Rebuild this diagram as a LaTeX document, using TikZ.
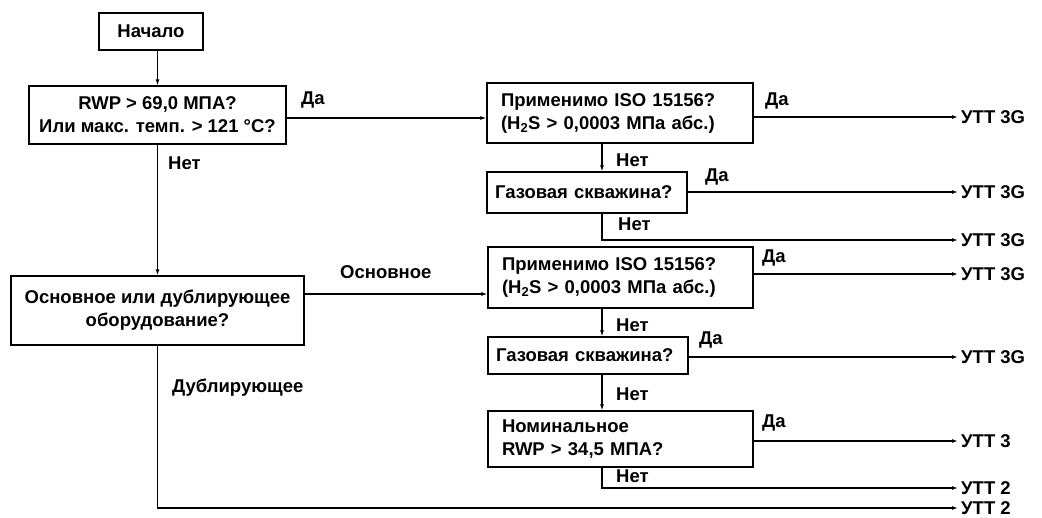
\documentclass[tikz,border=0pt]{standalone}
\usepackage{fontspec}
\setmainfont{Liberation Sans}
\usetikzlibrary{arrows.meta}
\begin{document}
\begin{tikzpicture}[x=1pt,y=-1pt,
  every node/.style={font=\fontsize{18.5}{23}\selectfont\bfseries},
  box/.style={draw,line width=1.2pt,inner sep=0pt,align=center},
  lbox/.style={draw,line width=1.2pt,inner ysep=0pt,inner xsep=14pt,align=left},
  lbl/.style={anchor=west,inner sep=0pt},
  res/.style={anchor=west,inner xsep=3pt,inner ysep=0pt},
  conn/.style={line width=1.2pt},
  arr/.style={conn,-{Latex[length=6pt,width=4pt]}}]
\useasboundingbox (0,0) rectangle (1042,517);
% boxes
\node[box,minimum width=104pt,minimum height=37pt] (start) at (151,31.5) {Начало};
\node[box,minimum width=257pt,minimum height=58pt] (q1) at (157.5,115) {RWP > 69,0 МПА?\\Или макс. темп. > 121 °C?};
\node[box,minimum width=293pt,minimum height=69pt] (q2) at (157.5,310.5) {Основное или дублирующее\\оборудование?};
\node[lbox,text width=238pt,minimum height=60pt] (iso1) at (620,113) {Применимо ISO 15156?\\(H\textsubscript{2}S > 0,0003 МПа абс.)};
\node[lbox,inner xsep=8pt,text width=184pt,minimum height=41pt] (gas1) at (587,192.5) {Газовая скважина?};
\node[lbox,text width=237pt,minimum height=61pt] (iso2) at (620.5,277.5) {Применимо ISO 15156?\\(H\textsubscript{2}S > 0,0003 МПа абс.)};
\node[lbox,inner xsep=8pt,text width=184pt,minimum height=37pt] (gas2) at (588,355.5) {Газовая скважина?};
\node[lbox,text width=237pt,minimum height=56pt] (nom) at (620.5,439) {Номинальное\\RWP > 34,5 МПА?};
% results
\node[res] (r1) at (958,117) {УТТ 3G};
\node[res] (r2) at (958,192) {УТТ 3G};
\node[res] (r3) at (958,240) {УТТ 3G};
\node[res] (r4) at (958,274) {УТТ 3G};
\node[res] (r5) at (958,357) {УТТ 3G};
\node[res] (r6) at (958,441) {УТТ 3};
\node[res] (r7) at (958,488) {УТТ 2};
\node[res] (r8) at (958,508) {УТТ 2};
% helper coordinates
\coordinate (v) at (602,0);
\coordinate (ya) at (0,118);
\coordinate (yb) at (0,294);
% connectors
\draw[arr] (q1.north |- start.south) -- (q1.north);
\draw[arr] (q1.south) -- (q2.north);
\draw[arr] (q1.east |- ya) -- (iso1.west |- ya);
\draw[arr] (q2.east |- yb) -- (iso2.west |- yb);
\draw[arr] (q2.south) -- (q2.south |- r8.west) -- (r8.west);
\draw[arr] (iso1.east |- r1.west) -- (r1.west);
\draw[arr] (iso1.south -| v) -- (gas1.north -| v);
\draw[arr] (gas1.east |- r2.west) -- (r2.west);
\draw[arr] (gas1.south -| v) -- (v |- r3.west) -- (r3.west);
\draw[arr] (iso2.east |- r4.west) -- (r4.west);
\draw[arr] (iso2.south -| v) -- (gas2.north -| v);
\draw[arr] (gas2.east |- r5.west) -- (r5.west);
\draw[arr] (gas2.south -| v) -- (nom.north -| v);
\draw[arr] (nom.east |- r6.west) -- (r6.west);
\draw[arr] (nom.south -| v) -- (v |- r7.west) -- (r7.west);
% labels
\node[lbl] (l1) at (301,100) {Да};
\node[lbl] (l2) at (168,163) {Нет};
\node[lbl] (l3) at (765,101) {Да};
\node[lbl] (l4) at (616,160) {Нет};
\node[lbl] (l5) at (705,177) {Да};
\node[lbl] (l6) at (618,224) {Нет};
\node[lbl] (l7) at (340,272) {Основное};
\node[lbl] (l8) at (762,258) {Да};
\node[lbl] (l9) at (616,325) {Нет};
\node[lbl] (l10) at (699,340) {Да};
\node[lbl] (l11) at (616,394) {Нет};
\node[lbl] (l12) at (762,423) {Да};
\node[lbl] (l13) at (616,476) {Нет};
\node[lbl] (l14) at (172,388) {Дублирующее};
\end{tikzpicture}
\end{document}
